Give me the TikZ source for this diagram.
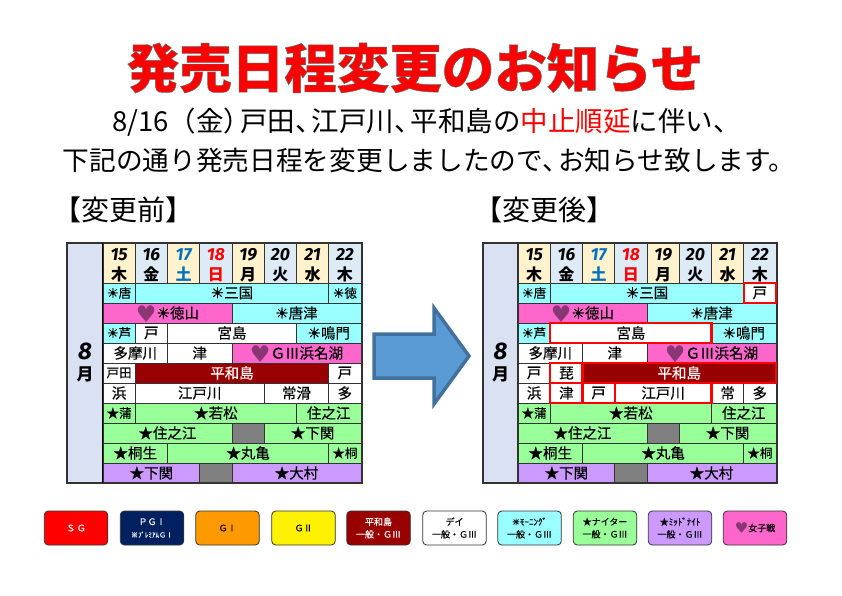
\documentclass[tikz,border=0pt]{standalone}
\usepackage{fontspec}
\setmainfont{Noto Sans CJK JP}
\newfontfamily\cellf[FakeBold=0.35]{Noto Sans CJK JP}
\newfontfamily\symf{DejaVu Sans}
\newfontfamily\sunf[FakeBold=1.6]{DejaVu Sans}
\newfontfamily\numf{Fira Sans}
\definecolor{cyanc}{HTML}{99FFFF}
\definecolor{pinkc}{HTML}{FF66CC}
\definecolor{greenc}{HTML}{99FF99}
\definecolor{purpc}{HTML}{CC99FF}
\definecolor{grayc}{HTML}{808080}
\definecolor{darkr}{HTML}{990000}
\definecolor{navyc}{HTML}{002060}
\definecolor{orangec}{HTML}{FF9900}
\definecolor{linec}{HTML}{333333}
\definecolor{monthc}{HTML}{D9E1F2}
\definecolor{hdbeige}{HTML}{FFF2CC}
\definecolor{hdblue}{HTML}{DDEBF7}
\definecolor{heartc}{HTML}{8A3574}
\definecolor{arrowc}{HTML}{5B9BD5}
\definecolor{arrowl}{HTML}{41719C}
\definecolor{satc}{HTML}{0070C0}
\newcounter{cellno}
\newcommand{\sunm}{\smash{\sunf\fontsize{15}{15}\selectfont ☀}}
\newcommand{\suns}{\smash{\sunf\fontsize{13}{13}\selectfont ☀}}
\newcommand{\hrt}{\smash{\raisebox{-3.5pt}{\textcolor{heartc}{\symf\fontsize{23}{23}\selectfont ♥}}}}
\newcommand{\tc}{、\kern-.4em}
\tikzset{
 cell/.style={draw=linec,line width=0.9pt,inner sep=0pt,outer sep=0pt,font=\cellf\fontsize{14.5}{14.5}\selectfont},
 wh/.style={fill=white},
 cy/.style={fill=cyanc},
 pk/.style={fill=pinkc},
 gr/.style={fill=greenc},
 pu/.style={fill=purpc},
 gy/.style={fill=grayc},
 dr/.style={fill=darkr,text=white},
 tiny cell/.style={font=\cellf\fontsize{12.5}{12.5}\selectfont},
 chg/.style={draw=red,line width=2.2pt},
 hdr/.style={draw=linec,line width=0.9pt,inner sep=0pt,outer sep=0pt,minimum width=32.25pt,minimum height=40pt,align=center,font=\fontsize{16}{20}\selectfont},
 frame/.style={draw=linec,line width=1.6pt,inner sep=0pt,outer sep=0pt},
 legend/.style={draw=linec,line width=0.8pt,rounded corners=4pt,minimum width=63.5pt,minimum height=34pt,inner sep=0pt,align=center,font=\cellf\fontsize{9}{12.5}\selectfont},
 lead/.style={inner sep=0pt,outer sep=0pt,font=\fontsize{26.7}{26.7}\selectfont},
 head/.style={inner sep=0pt,outer sep=0pt,font=\fontsize{28}{28}\selectfont},
}
% x0, first column, span, row, style, text
\newcommand{\cb}[6]{\stepcounter{cellno}%
 \node[cell,#5,minimum width=#3*32.25pt,minimum height=20pt] (c\thecellno) at ({#1+(#2+#3/2)*32.25},{283+(#4+.5)*20}) {#6};}
\newcommand{\headrow}[1]{%
 \foreach \c/\n/\d/\f/\t in {0/15/木/hdbeige/black,1/16/金/hdblue/black,2/17/土/hdbeige/satc,3/18/日/hdblue/red,4/19/月/hdbeige/black,5/20/火/hdblue/black,6/21/水/hdbeige/black,7/22/木/hdblue/black}{%
  \stepcounter{cellno}%
  \node[hdr,fill=\f,text=\t] (c\thecellno) at ({#1+(\c+.5)*32.25},263) {\smash{\raisebox{-7pt}{\numf\bfseries\itshape\fontsize{17.5}{20}\selectfont \n}}\\\smash{\raisebox{-7pt}{\bfseries\fontsize{16}{20}\selectfont \d}}};}}
\newcommand{\monthbox}[2]{%
 \node[frame,fill=monthc,minimum width=35pt,minimum height=240pt,align=center,font=\fontsize{16}{21}\selectfont] (#2) at (#1,363) {\smash{\raisebox{-7pt}{\numf\bfseries\itshape\fontsize{24}{24}\selectfont 8}}\\\smash{\raisebox{-7pt}{\bfseries\fontsize{17}{17}\selectfont 月}}};}
\newcommand{\commonone}[1]{%
 \cb{#1}{0}{4}{1}{pk}{\hrt\sunm 徳山}
 \cb{#1}{4}{4}{1}{cy}{\sunm 唐津}
 \cb{#1}{0}{2}{3}{wh}{多摩川}
 \cb{#1}{2}{2}{3}{wh}{津}
 \cb{#1}{4}{4}{3}{pk}{\hrt ＧⅢ浜名湖}}
\newcommand{\commontwo}[1]{%
 \cb{#1}{0}{1}{6}{gr,tiny cell}{★蒲}
 \cb{#1}{1}{5}{6}{gr}{★若松}
 \cb{#1}{6}{2}{6}{gr}{住之江}
 \cb{#1}{0}{4}{7}{gr}{★住之江}
 \cb{#1}{4}{1}{7}{gy}{}
 \cb{#1}{5}{3}{7}{gr}{★下関}
 \cb{#1}{0}{2}{8}{gr}{★桐生}
 \cb{#1}{2}{5}{8}{gr}{★丸亀}
 \cb{#1}{7}{1}{8}{gr,tiny cell}{★桐}
 \cb{#1}{0}{3}{9}{pu}{★下関}
 \cb{#1}{3}{1}{9}{gy}{}
 \cb{#1}{4}{4}{9}{pu}{★大村}}
\begin{document}
\begin{tikzpicture}[x=1pt,y=-1pt]
\useasboundingbox (0,0) rectangle (842,595);
\fill[white] (0,0) rectangle (842,595);
% title
\node[inner sep=0pt] (title) at (415,68) {\textcolor{red}{\special{pdf:code q 2 Tr 0.5 w 0.4 0.4 0.4 RG}\bfseries\fontsize{52.5}{52.5}\selectfont 発売日程変更のお知らせ\special{pdf:code 0 Tr Q}}};
\node[lead,font=\fontsize{27.5}{27.5}\selectfont] (lineone) at (421,122) {8/16（金）\kern-.4em 戸田\tc 江戸川\tc 平和島の\textcolor{red}{中止順延}に伴い\tc};
\node[lead] (linetwo) at (429,160) {下記の通り発売日程を変更しましたので\tc お知らせ致します。};
\node[head] (before) at (123.5,210) {【変更前】};
\node[head] (after) at (544.5,210) {【変更後】};
% left table
\monthbox{85}{mL}
\headrow{103}
\cb{103}{0}{1}{0}{cy,tiny cell}{\suns 唐}
\cb{103}{1}{6}{0}{cy}{\sunm 三国}
\cb{103}{7}{1}{0}{cy,tiny cell}{\suns 徳}
\commonone{103}
\cb{103}{0}{1}{2}{cy,tiny cell}{\suns 芦}
\cb{103}{1}{1}{2}{wh}{戸}
\cb{103}{2}{4}{2}{wh}{宮島}
\cb{103}{6}{2}{2}{cy}{\sunm 鳴門}
\cb{103}{0}{1}{4}{wh,tiny cell}{戸田}
\cb{103}{1}{6}{4}{dr}{平和島}
\cb{103}{7}{1}{4}{wh}{戸}
\cb{103}{0}{1}{5}{wh}{浜}
\cb{103}{1}{4}{5}{wh}{江戸川}
\cb{103}{5}{2}{5}{wh}{常滑}
\cb{103}{7}{1}{5}{wh}{多}
\commontwo{103}
\node[frame,minimum width=295pt,minimum height=240pt] (fL) at (214.5,363) {};
\draw[line width=1.8pt,draw=black] (mL.north east) -- (mL.south east);
% right table
\monthbox{500.5}{mR}
\headrow{518}
\cb{518}{0}{1}{0}{cy,tiny cell}{\suns 唐}
\cb{518}{1}{6}{0}{cy}{\sunm 三国}
\commonone{518}
\cb{518}{0}{1}{2}{cy,tiny cell}{\suns 芦}
\cb{518}{6}{2}{2}{cy}{\sunm 鳴門}
\cb{518}{0}{1}{4}{wh}{戸}
\cb{518}{0}{1}{5}{wh}{浜}
\cb{518}{6}{1}{5}{wh}{常}
\cb{518}{7}{1}{5}{wh}{多}
\commontwo{518}
\node[frame,minimum width=294pt,minimum height=240pt] (fR) at (630,363) {};
\cb{518}{7}{1}{0}{wh,chg}{戸}
\cb{518}{1}{5}{2}{wh,chg}{宮島}
\cb{518}{1}{1}{4}{wh,chg}{琵}
\cb{518}{2}{6}{4}{dr,chg}{平和島}
\cb{518}{1}{1}{5}{wh,chg}{津}
\cb{518}{2}{1}{5}{wh,chg}{戸}
\cb{518}{3}{3}{5}{wh,chg}{江戸川}
% arrow
\draw[fill=arrowc,draw=arrowl,line width=3.5pt,line join=miter] (374,334) -- (434,334) -- (434,308) -- (469,356) -- (434,404) -- (434,378) -- (374,378) -- cycle;
% legend
\node[legend,fill=red,text=white] (l1) at (76,528) {Ｓ\,Ｇ};
\node[legend,fill=navyc,text=white] (l2) at (152,528) {ＰＧⅠ\\{\fontsize{7}{7}\selectfont ※ﾌﾟﾚﾐｱﾑＧⅠ}};
\node[legend,fill=orangec] (l3) at (227.5,528) {ＧⅠ};
\node[legend,fill=yellow] (l4) at (303.5,528) {ＧⅡ};
\node[legend,fill=darkr,text=white] (l5) at (378.5,528) {平和島\\一般・ＧⅢ};
\node[legend,fill=white] (l6) at (454.5,528) {デイ\\一般・ＧⅢ};
\node[legend,fill=cyanc] (l7) at (529.5,528) {\smash{\sunf\fontsize{9}{9}\selectfont ☀}ﾓｰﾆﾝｸﾞ\\一般・ＧⅢ};
\node[legend,fill=greenc] (l8) at (605,528) {★ナイター\\一般・ＧⅢ};
\node[legend,fill=purpc] (l9) at (680,528) {★ﾐｯﾄﾞﾅｲﾄ\\一般・ＧⅢ};
\node[legend,fill=pinkc] (l10) at (755,528) {\smash{\raisebox{-2pt}{\textcolor{heartc}{\symf\fontsize{15}{15}\selectfont ♥}}}女子戦};
\end{tikzpicture}
\end{document}
